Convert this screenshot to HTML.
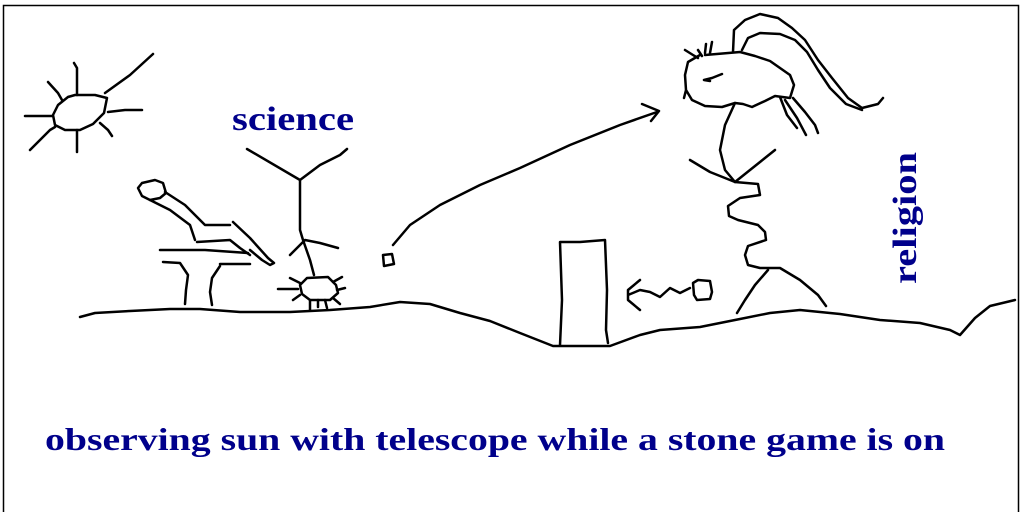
<!DOCTYPE html>
<html><head><style>
html,body{margin:0;padding:0;background:#fff;}
svg{display:block;}
text{font-family:"Liberation Serif",serif;font-weight:bold;fill:#00008b;}
</style></head><body>
<svg width="1024" height="512" viewBox="0 0 1024 512" xmlns="http://www.w3.org/2000/svg">
<rect x="0" y="0" width="1024" height="512" fill="#fff"/>
<path d="M3.5 512 V5.5 H1018.5 V512" fill="none" stroke="#000" stroke-width="1.5"/>
<g fill="none" stroke="#000" stroke-width="2.5" stroke-linecap="round" stroke-linejoin="round">
<path d="M68 97 L58 105 L53 115 L55 125 L65 130 L80 130 L93 124 L104 113 L107 98 L95 95 L75 95 L68 97"/>
<path d="M77 95 L77 68 L74 63 M48 82 L58 93 L62 100 M25 116 L53 116 M30 150 L50 130 L55 127 M77 130 L77 152 M100 123 L108 130 L112 136 M108 112 L125 110 L142 110 M105 93 L130 75 L153 54"/>
<path d="M247 149 L300 180 L320 165 L340 155 L347 149 M300 180 L300 230 L303 240 L310 260 L314 275 M290 255 L305 240 L320 243 L338 248"/>
<path d="M300 285 L307 278 L328 277 L336 285 L338 293 L330 300 L310 300 L302 294 Z"/>
<path d="M278 289 L298 289 M290 278 L300 283 M293 300 L300 295 M310 300 L310 310 M318 300 L318 307 M325 300 L327 308 M333 298 L340 304 M337 290 L345 288 M333 282 L342 277"/>
<path d="M142 183 L155 180 L163 183 L166 193 L160 198 L150 200 L142 196 L138 188 Z"/>
<path d="M150 200 L170 210 L190 225 L195 240 M197 242 L230 240 L240 248 L250 255 M165 192 L185 205 L195 215 L205 225 L230 225 M233 222 L250 238 L268 258 L274 263 L270 265 L262 260 L250 250"/>
<path d="M160 250 L205 250 L248 253 M163 262 L180 263 L188 275 L186 290 L185 304 M220 264 L250 264 M220 266 L212 278 L210 292 L212 305"/>
<path d="M80 317 L95 313 L130 311 L170 309 L200 309 L240 312 L290 312 L330 310 L370 307 L400 302 L430 304 L460 313 L490 321 L520 333 L553 346 L610 346 L640 335 L660 330 L700 327 L740 319 L770 313 L800 310 L840 314 L880 320 L920 323 L950 330 L960 335 L975 318 L990 306 L1015 300"/>
<path d="M560 345 L562 300 L560 242 L580 242 L605 240 L607 290 L606 330 L608 343"/>
<path d="M383 255 L392 254 L394 264 L384 266 Z"/>
<path d="M393 245 L410 225 L440 205 L480 185 L520 168 L570 145 L620 125 L657 112 M642 104 L659 111 L651 121"/>
<path d="M700 55 L688 62 L685 75 L686 90 L684 98 M686 90 L692 100 L705 106 L722 107 L735 103 L743 104 L752 107 L765 101 L775 96 L790 98 L794 85 L790 75 L780 68 L770 61 L755 56 L740 52 L705 55"/>
<path d="M704 80 L712 78 L722 74 M704 80 L710 81"/>
<path d="M685 50 L693 55 L698 58 M698 50 L702 56 M706 44 L705 53 M712 42 L710 53"/>
<path d="M733 52 L734 30 L745 20 L760 14 L778 18 L792 28 L805 40 L818 60 L832 78 L848 98 L862 108 L878 104 L883 98"/>
<path d="M742 50 L748 38 L760 33 L780 34 L795 40 L807 52 L818 70 L830 88 L846 104 L862 110"/>
<path d="M780 97 L787 115 L797 128 M785 100 L797 118 L806 135 M793 98 L805 112 L815 125 L818 133"/>
<path d="M735 103 L725 125 L720 150 L725 170 L735 182 M690 160 L710 172 L735 182 L750 170 L775 150"/>
<path d="M735 182 L758 184 L760 195 L740 198 L728 206 L729 216 L738 220 L758 225 L765 232 L766 240 L748 246 L745 255 L748 265 L760 268 L780 268 L800 280 L818 295 L826 306 M768 270 L755 285 L745 300 L737 313"/>
<path d="M693 283 L698 280 L710 281 L712 292 L710 299 L697 300 L694 295 Z"/>
<path d="M690 288 L680 293 L670 288 L660 297 L650 292 L640 290 L628 295 M640 280 L628 290 L628 300 L640 310"/>
</g>
<text x="293" y="130" font-size="34" text-anchor="middle" textLength="122" lengthAdjust="spacingAndGlyphs">science</text>
<text transform="translate(916,218) rotate(-90)" font-size="34" text-anchor="middle" textLength="132" lengthAdjust="spacingAndGlyphs">religion</text>
<text x="45" y="450" font-size="32" textLength="900" lengthAdjust="spacingAndGlyphs">observing sun with telescope while a stone game is on</text>
</svg>
</body></html>
